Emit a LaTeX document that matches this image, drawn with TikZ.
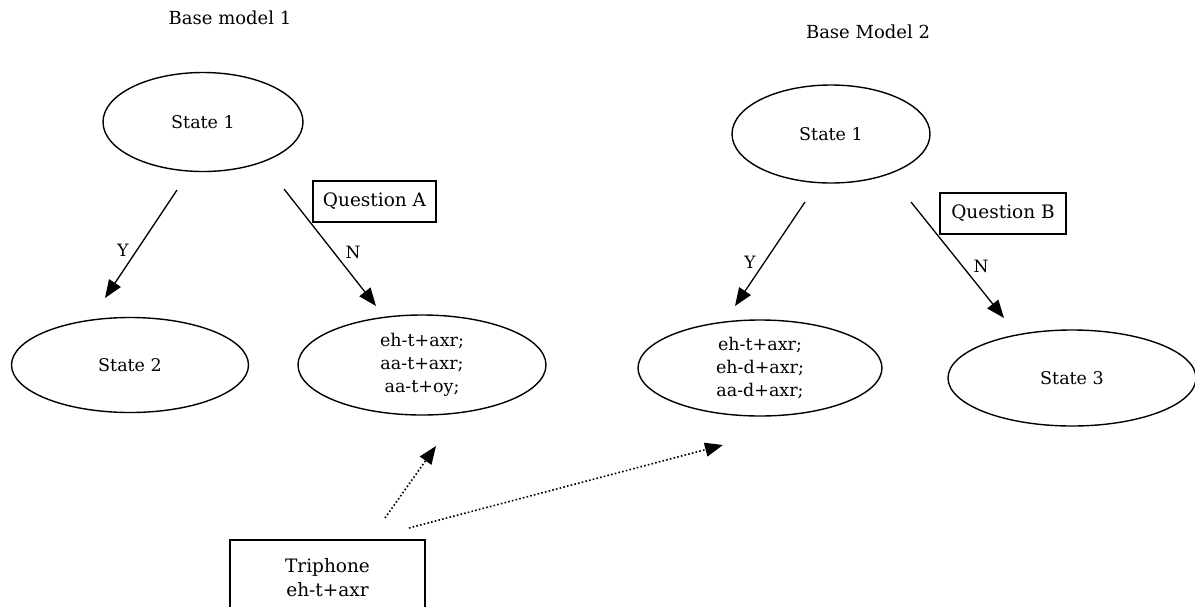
\documentclass[tikz,border=0pt]{standalone}
\usepackage{fontspec}
\setmainfont{DejaVu Serif}
\usetikzlibrary{arrows.meta,shapes.geometric}
\tikzset{
  state/.style={ellipse, draw, line width=1.4pt, inner sep=0pt, font=\fontsize{17.5}{23}\selectfont, align=center},
  qbox/.style={rectangle, draw, line width=1.2pt, font=\fontsize{18.5}{23}\selectfont, inner sep=0pt},
  title/.style={font=\fontsize{18}{23}\selectfont},
  lbl/.style={font=\fontsize{17}{23}\selectfont},
  edge/.style={line width=1.3pt, -{Triangle[length=18pt,width=14pt]}},
  hint/.style={line width=1.6pt, dash pattern=on 1.6pt off 2.2pt, -{Triangle[length=18pt,width=14pt]}}
}
\begin{document}
\begin{tikzpicture}[x=1pt,y=-1pt]
\useasboundingbox (0,0) rectangle (1195,606);

% titles
\node[title] (t1) at (230,18) {Base model 1};
\node[title] (t2) at (868,32) {Base Model 2};

% states
\node[state, minimum width=200pt, minimum height=99pt] (a1) at (203,122) {State 1};
\node[state, minimum width=237pt, minimum height=95pt] (a2) at (130,365) {State 2};
\node[state, minimum width=248pt, minimum height=100pt] (a3) at (422,365) {eh-t+axr;\\aa-t+axr;\\aa-t+oy;};
\node[state, minimum width=198pt, minimum height=98pt] (b1) at (831,134) {State 1};
\node[state, minimum width=244pt, minimum height=96pt] (b2) at (760,368) {eh-t+axr;\\eh-d+axr;\\aa-d+axr;};
\node[state, minimum width=248pt, minimum height=96pt] (b3) at (1072,378) {State 3};

% question boxes
\node[qbox, minimum width=123pt, minimum height=41pt] (qa) at (374.5,201.5) {Question A};
\node[qbox, minimum width=126pt, minimum height=41pt] (qb) at (1003,213.5) {Question B};

% triphone box (runs past the lower edge)
\draw[line width=1.2pt] (230,620) -- (230,540) -- (425,540) -- (425,620);
\node[font=\fontsize{18.5}{24}\selectfont, align=center] (tri) at (327.5,578) {Triphone\\eh-t+axr};

% free ends of the connectors
\coordinate (a1y) at (177,190);
\coordinate (a2t) at (105,298);
\coordinate (a1n) at (284,189);
\coordinate (a3t) at (376,306);
\coordinate (b1y) at (805,202);
\coordinate (b2t) at (735,306);
\coordinate (b1n) at (911,202);
\coordinate (b3t) at (1004,318);
\coordinate (ts1) at (385,518);
\coordinate (te1) at (436,446);
\coordinate (ts2) at (409,528);
\coordinate (te2) at (723,445);

\draw[edge] (a1y) -- (a2t);
\draw[edge] (a1n) -- (a3t);
\draw[edge] (b1y) -- (b2t);
\draw[edge] (b1n) -- (b3t);

% branch labels
\node[lbl] (ya) at (123,250) {Y};
\node[lbl] (na) at (353,252) {N};
\node[lbl] (yb) at (750,262) {Y};
\node[lbl] (nb) at (981,266) {N};

\draw[hint] (ts1) -- (te1);
\draw[hint] (ts2) -- (te2);
\end{tikzpicture}
\end{document}
